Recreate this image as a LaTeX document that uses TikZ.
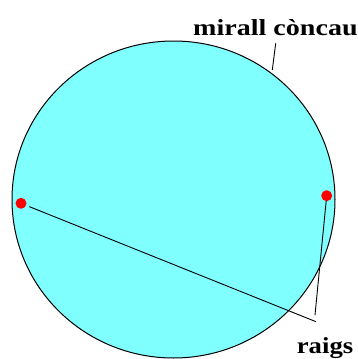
\documentclass[tikz,border=0pt]{standalone}
\usepackage{fontspec}
\newfontfamily\tnrfont{Liberation Serif}
\definecolor{mirror}{RGB}{128,255,255}
\begin{document}
\begin{tikzpicture}[x=1pt,y=-1pt,
  dot/.style={circle,fill=red,inner sep=0pt,minimum size=11pt},
  lab/.style={anchor=base west,inner sep=0pt,font=\tnrfont\bfseries\fontsize{23}{25}\selectfont},
  ray/.style={draw=black,line width=0.9pt}]
\useasboundingbox (0,0) rectangle (358,359);
\begin{scope}
\clip (0,0) rectangle (358,359);
\draw[fill=mirror,line width=1pt] (173.5,199.5) ellipse [x radius=161.5pt, y radius=158.5pt];
\end{scope}
\node[dot] (L) at (21,203.3) {};
\node[dot] (R) at (326.7,195.7) {};
\coordinate (E1) at (316,321.7);
\coordinate (E2) at (315,315);
\draw[ray,shorten <=9pt] (L.center) -- (E1);
\draw[ray,shorten <=5pt] (R.center) -- (E2);
\node[lab] (mc) at (193,35) {\scalebox{1.22}[1]{mirall còncau}};
\node[lab] (rg) at (296.7,353.3) {\scalebox{1.16}[1]{raigs}};
\coordinate (m1) at (275.7,43.3);
\coordinate (m2) at (272.3,70);
\draw[ray] (m1) -- (m2);
\end{tikzpicture}
\end{document}
